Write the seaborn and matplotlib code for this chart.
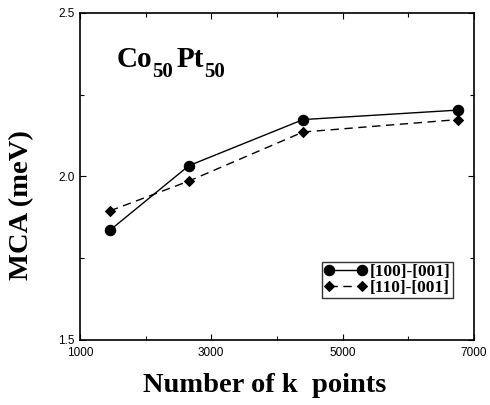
import matplotlib
matplotlib.use("Agg")
import matplotlib.pyplot as plt
import seaborn as sns
import pandas as pd
from matplotlib.ticker import FixedLocator
from matplotlib.transforms import offset_copy

# k-point convergence of the magnetocrystalline anisotropy
k_points = [1460, 2660, 4400, 6760]
mca_100_001 = [1.836, 2.033, 2.174, 2.203]
mca_110_001 = [1.895, 1.986, 2.136, 2.174]
series_labels = ["[100]-[001]", "[110]-[001]"]
x_ticks = [1000, 3000, 5000, 7000]
x_minor = [2000, 4000, 6000]
y_ticks = [1.5, 2.0, 2.5]
y_minor = [1.75, 2.25]
alloy_parts = [("Co", False), ("50", True), ("Pt", False), ("50", True)]

sns.set_theme(style="ticks")
plt.rcParams["font.family"] = ["Liberation Sans", "DejaVu Sans"]
plt.rcParams["text.color"] = "black"
plt.rcParams["axes.labelcolor"] = "black"

fig = plt.figure(figsize=(4.9, 4.05), dpi=100)
ax = fig.add_axes([0.163, 0.1605, 0.804, 0.8075])

df1 = pd.DataFrame({"k": k_points, "mca": mca_100_001})
df2 = pd.DataFrame({"k": k_points, "mca": mca_110_001})

sns.lineplot(data=df1, x="k", y="mca", ax=ax, color="black", lw=1.0,
             marker="o", markersize=7.5, markeredgecolor="black",
             label=series_labels[0])
sns.lineplot(data=df2, x="k", y="mca", ax=ax, color="black", lw=1.0,
             marker="D", markersize=5.5, markeredgecolor="black",
             label=series_labels[1])
ax.lines[1].set_dashes([6, 4])

ax.set_xlim(1000, 7000)
ax.set_ylim(1.5, 2.5)
ax.xaxis.set_major_locator(FixedLocator(x_ticks))
ax.xaxis.set_minor_locator(FixedLocator(x_minor))
ax.yaxis.set_major_locator(FixedLocator(y_ticks))
ax.yaxis.set_minor_locator(FixedLocator(y_minor))
ax.tick_params(which="both", direction="in", top=True, right=True,
               labelsize=8.5, colors="black", width=0.8)
ax.tick_params(which="major", length=4)
ax.tick_params(which="minor", length=3)
ax.tick_params(axis="x", pad=5)
for s in ax.spines.values():
    s.set_color("black")
    s.set_linewidth(1.2)

serif = ["Liberation Serif", "DejaVu Serif"]
ax.set_xlabel("Number of k  points", fontsize=20.5, fontweight="bold",
              family=serif, color="black")
ax.xaxis.set_label_coords(0.47, -0.1, transform=ax.transAxes)
ax.xaxis.label.set_va("top")
ax.set_ylabel("MCA (meV)", fontsize=20.5, fontweight="bold",
              family=serif, color="black")
ax.yaxis.set_label_coords(-0.148, 0.413, transform=ax.transAxes)
ax.yaxis.label.set_va("center")

# Alloy label with large, deep subscripts, laid out piece by piece
renderer = fig.canvas.get_renderer()
trans = ax.transAxes
x_pt = 0.0
for text, is_sub in alloy_parts:
    size = 15 if is_sub else 21
    dy = -7 if is_sub else 0
    t = ax.text(0.093, 0.835, text,
                transform=offset_copy(trans, fig=fig, x=x_pt, y=dy, units="points"),
                fontsize=size, fontweight="bold", family=serif,
                va="baseline", ha="left", color="black")
    w = t.get_window_extent(renderer).width * 72 / fig.dpi
    x_pt += w + (2.5 if is_sub else 0)

leg = ax.legend(loc="lower right", bbox_to_anchor=(0.947, 0.128),
                borderaxespad=0, frameon=True, fancybox=False,
                edgecolor="black", handlelength=2.5, numpoints=2,
                prop={"family": serif, "weight": "bold", "size": 12.5},
                borderpad=0.12, labelspacing=0.0, handletextpad=0.15)
leg.get_frame().set_linewidth(1.0)
for t in leg.get_texts():
    t.set_color("black")

fig.savefig("out.png", dpi=100)
